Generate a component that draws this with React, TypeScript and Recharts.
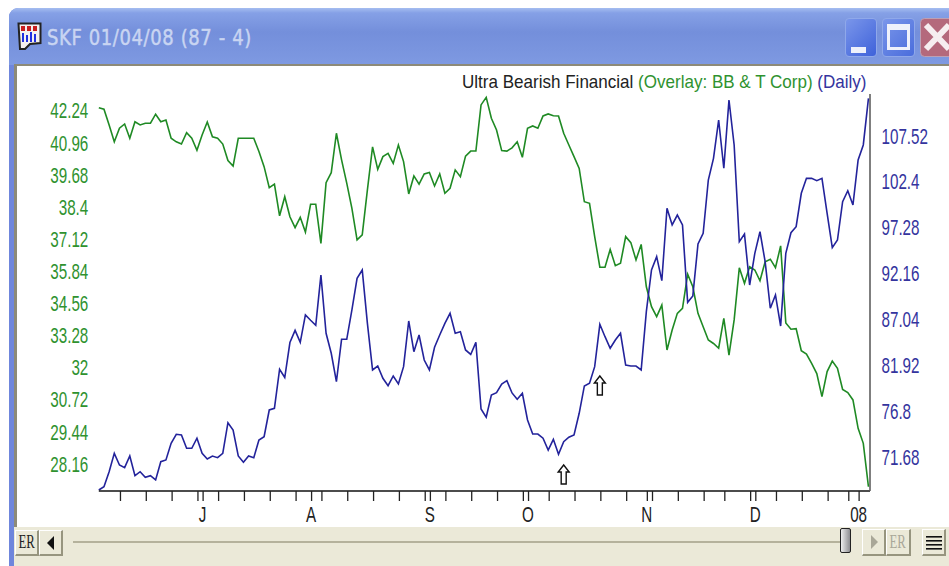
import { LineChart, Line, XAxis, YAxis, ReferenceDot } from 'recharts'

const bbtValues = [
  42.40, 42.34, 41.71, 41.04, 41.58, 41.75, 41.18, 41.84, 41.71, 41.78,
  41.78, 42.14, 41.84, 41.91, 41.18, 41.04, 40.95, 41.40, 41.18, 40.70,
  41.31, 41.83, 41.24, 41.18, 40.95, 40.29, 40.07, 41.18, 41.18, 41.18,
  41.18, 40.65, 40.05, 39.21, 39.35, 38.09, 38.85, 38.05, 37.62, 38.03,
  37.44, 38.55, 38.55, 36.99, 39.41, 39.81, 41.38, 40.32, 39.39, 38.39,
  37.13, 37.33, 39.12, 40.84, 39.94, 40.45, 40.58, 40.18, 40.91, 40.25,
  38.96, 39.68, 39.35, 39.76, 39.82, 39.28, 39.76, 38.99, 39.19, 39.92,
  39.65, 40.47, 40.67, 40.67, 42.51, 42.81, 41.98, 41.51, 40.69, 40.67,
  40.80, 41.04, 40.42, 41.58, 41.67, 41.58, 42.07, 42.15, 42.08, 42.07,
  41.38, 40.91, 40.45, 39.98, 38.65, 38.59, 37.26, 36.04, 36.04, 36.75,
  36.10, 36.20, 37.26, 37.02, 36.33, 36.95, 35.26, 34.47, 34.07, 34.53,
  32.74, 33.54, 34.20, 34.40, 35.76, 35.26, 34.20, 33.67, 33.14, 33.00,
  32.81, 34.00, 32.54, 33.94, 36.02, 35.40, 36.06, 35.93, 35.50, 36.26,
  36.36, 36.02, 36.89, 33.82, 33.57, 33.59, 32.71, 32.58, 32.21, 31.80,
  30.88, 31.88, 32.30, 32.01, 31.17, 31.04, 30.75, 29.62, 29.02, 27.29,
]

const skfValues = [
  68.14, 68.51, 70.18, 72.23, 70.93, 70.63, 71.93, 69.74, 70.18, 69.56,
  69.74, 69.26, 71.30, 71.49, 73.35, 74.35, 74.27, 72.79, 72.79, 73.91,
  72.23, 71.60, 71.93, 71.74, 72.23, 75.64, 74.83, 71.93, 71.23, 71.93,
  71.74, 73.72, 74.08, 77.06, 77.25, 81.60, 80.68, 84.58, 85.94, 84.60,
  87.65, 87.06, 86.50, 92.10, 85.61, 83.38, 80.21, 84.94, 84.94, 88.21,
  91.74, 92.66, 86.72, 81.52, 81.96, 80.59, 79.77, 80.85, 79.96, 81.89,
  86.98, 83.56, 85.42, 82.63, 81.52, 84.05, 85.42, 86.72, 87.84, 85.61,
  85.79, 83.75, 83.25, 84.60, 77.17, 76.25, 78.73, 78.99, 79.96, 80.33,
  78.96, 78.25, 78.92, 75.95, 74.38, 74.38, 73.91, 72.60, 73.79, 72.12,
  73.53, 74.02, 74.27, 76.69, 79.74, 80.04, 81.89, 86.61, 85.23, 83.94,
  84.86, 85.61, 82.07, 81.96, 81.96, 81.52, 88.02, 92.66, 94.15, 91.47,
  99.54, 97.68, 98.79, 97.68, 89.06, 89.77, 95.56, 96.75, 102.69, 105.11,
  109.38, 104.00, 111.61, 106.60, 95.82, 96.67, 90.99, 94.52, 96.93, 93.59,
  88.40, 89.88, 86.42, 94.52, 96.82, 97.49, 101.21, 102.88, 102.88, 102.62,
  102.88, 98.98, 95.15, 96.00, 100.28, 101.50, 99.91, 104.92, 106.60, 111.80,
]

const leftTicks = [42.24, 40.96, 39.68, 38.4, 37.12, 35.84, 34.56, 33.28, 32, 30.72, 29.44, 28.16]
const rightTicks = [107.52, 102.4, 97.28, 92.16, 87.04, 81.92, 76.8, 71.68]
const weekTicks = [
  4, 9, 14, 19, 20, 23, 28, 33, 38, 41, 43, 48, 53, 58, 63, 64, 67, 72, 77, 82, 83,
  87, 92, 97, 102, 106, 107, 112, 117, 121, 126, 127, 131, 136, 141, 145, 147,
]
const monthLabels: Record<number, string> = { 20: 'J', 41: 'A', 64: 'S', 83: 'O', 106: 'N', 127: 'D', 147: '08' }
const arrowMarks = [
  { day: 90, price: 69.87 },
  { day: 97, price: 79.79 },
]

const chartData = skfValues.map((skf, i) => ({ day: i, skf, bbt: bbtValues[i] }))

const GREEN = '#2f922f'
const NAVY = '#34349e'
const FONT = '"Liberation Sans", Arial, sans-serif'

function LeftTick({ x, y, payload }: any) {
  return (
    <text transform={`translate(${x - 8.5},${y + 6.8}) scale(1,1.4)`} textAnchor="end" fontFamily={FONT} fontSize={15.2} fill={GREEN}>
      {payload.value}
    </text>
  )
}

function RightTick({ x, y, payload }: any) {
  return (
    <text transform={`translate(${x + 9.5},${y + 6.8}) scale(1,1.4)`} textAnchor="start" fontFamily={FONT} fontSize={15.2} fill={NAVY}>
      {payload.value}
    </text>
  )
}

function WeekTick({ x, y, payload }: any) {
  const label = monthLabels[payload.value]
  return (
    <g>
      <line x1={x + 1} x2={x + 1} y1={491} y2={501} stroke="#222" strokeWidth={1.3} />
      {label && (
        <text transform={`translate(${x + 0.5},521.5) scale(1,1.4)`} textAnchor="middle" fontFamily={FONT} fontSize={15.2} fill="#222">
          {label}
        </text>
      )}
    </g>
  )
}

function UpArrow({ cx, cy }: any) {
  const p = [
    [0, -9.5], [5.5, -2.5], [2.5, -2.5], [2.5, 9.5], [-2.5, 9.5], [-2.5, -2.5], [-5.5, -2.5],
  ]
  return <polygon points={p.map(([a, b]) => `${cx + a},${cy + b}`).join(' ')} fill="#fff" stroke="#111" strokeWidth={1.4} />
}

function Bevel({ left, top, width, height, children }: any) {
  return (
    <div
      style={{
        position: 'absolute', left, top, width, height, boxSizing: 'border-box', background: '#ebe9d8',
        borderTop: '1px solid #fff', borderLeft: '1px solid #fff', borderRight: '2px solid #97957f', borderBottom: '2px solid #97957f',
        display: 'flex', alignItems: 'center', justifyContent: 'center',
      }}
    >
      {children}
    </div>
  )
}

function WindowChrome() {
  return (
    <>
      <div
        style={{
          position: 'absolute', left: 9, top: 8, width: 940, height: 558, background: '#6f86dc', borderTopLeftRadius: 9,
        }}
      />
      <div
        style={{
          position: 'absolute', left: 9, top: 8, width: 940, height: 57, borderTopLeftRadius: 9,
          background: 'linear-gradient(#a5bdf0 0px, #85a0e6 5px, #748fdb 24px, #7c97e0 50px, #7f9ae2 57px)',
        }}
      />
      <div style={{ position: 'absolute', left: 14, top: 64, width: 935, height: 2, background: '#8d8a78' }} />
      <div style={{ position: 'absolute', left: 14, top: 65, width: 2.5, height: 462, background: '#8d8a78' }} />
      <div style={{ position: 'absolute', left: 16.5, top: 66, width: 933, height: 461, background: '#fff' }} />
      <svg style={{ position: 'absolute', left: 17, top: 22 }} width={25} height={29}>
        <path d="M1.5 1.5 H23.5 V21 L13 22 L8 27 H3 Z" fill="#f4f0f0" stroke="#222" strokeWidth={2} />
        <rect x={4} y={4} width={4} height={5} fill="#c81e1e" />
        <rect x={10} y={4} width={4} height={5} fill="#c81e1e" />
        <rect x={16} y={4} width={4} height={5} fill="#c81e1e" />
        <rect x={5} y={11} width={2} height={9} fill="#2030e0" />
        <rect x={9} y={13} width={2} height={7} fill="#2030e0" />
        <rect x={13} y={10} width={2} height={10} fill="#2030e0" />
        <rect x={17} y={12} width={2} height={8} fill="#2030e0" />
      </svg>
      <div
        style={{
          position: 'absolute', left: 47, top: 25, whiteSpace: 'nowrap', transformOrigin: 'left top', transform: 'scale(1,1.2)',
          fontFamily: '"DejaVu Sans", Verdana, sans-serif', fontSize: 18, lineHeight: '22px', color: '#c9d5f2', letterSpacing: 0.6,
          WebkitTextStroke: '0.4px #c9d5f2',
        }}
      >
        SKF 01/04/08 (87 - 4)
      </div>
      <div style={{ position: 'absolute', left: 845, top: 18, width: 32, height: 39, boxSizing: 'border-box', border: '1px solid #8fa8ea', borderRadius: 4, background: 'linear-gradient(135deg, #7a96ea, #3f62da)' }}>
        <div style={{ position: 'absolute', left: 5, top: 28, width: 15, height: 6, background: '#eef1fb' }} />
      </div>
      <div style={{ position: 'absolute', left: 882, top: 18, width: 33, height: 39, boxSizing: 'border-box', border: '1px solid #8fa8ea', borderRadius: 4, background: 'linear-gradient(135deg, #7a96ea, #4a6ddc)' }}>
        <div style={{ position: 'absolute', left: 4, top: 5, width: 23, height: 26, boxSizing: 'border-box', border: '3px solid #eef1fb', borderTopWidth: 6 }} />
      </div>
      <svg style={{ position: 'absolute', left: 920, top: 18 }} width={29} height={39}>
        <rect x={0.5} y={0.5} width={40} height={38} rx={4} fill="#b4697c" stroke="#bca0b4" />
        <path d="M6 7 L29 31 M29 7 L6 31" stroke="#f6eef0" strokeWidth={6} />
      </svg>
      <div style={{ position: 'absolute', left: 14, top: 527, width: 935, height: 39, background: '#ebe9d8' }} />
      <Bevel left={15} top={530} width={24} height={26}>
        <span style={{ fontFamily: '"Liberation Serif", serif', fontSize: 15, color: '#222', transform: 'scale(0.85,1.2)' }}>ER</span>
      </Bevel>
      <Bevel left={39} top={530} width={24} height={26}>
        <svg width={10} height={14}><path d="M8 0 V14 L1 7 Z" fill="#111" /></svg>
      </Bevel>
      <div style={{ position: 'absolute', left: 73, top: 541, width: 768, height: 2, background: '#b5b29c' }} />
      <div style={{ position: 'absolute', left: 840, top: 528, width: 11, height: 25, boxSizing: 'border-box', border: '1.5px solid #222', borderRadius: 2, background: 'linear-gradient(90deg, #eee, #8e8e92)' }} />
      <Bevel left={862} top={529} width={24} height={27}>
        <svg width={10} height={14}><path d="M2 0 V14 L9 7 Z" fill="#a9a798" /></svg>
      </Bevel>
      <Bevel left={886} top={529} width={25} height={27}>
        <span style={{ fontFamily: '"Liberation Serif", serif', fontSize: 15, color: '#a9a798', transform: 'scale(0.85,1.2)' }}>ER</span>
      </Bevel>
      <Bevel left={922} top={529} width={24} height={27}>
        <svg width={16} height={15}>
          {[1, 5, 9, 13].map((y) => <rect key={y} x={0} y={y} width={16} height={1.6} fill="#111" />)}
        </svg>
      </Bevel>
    </>
  )
}

export default function App() {
  return (
    <div style={{ position: 'fixed', left: 0, top: 0, width: 949, height: 566, overflow: 'hidden', background: '#fff' }}>
      <WindowChrome />
      <div
        style={{
          position: 'absolute', right: 949 - 866.5, top: 71, whiteSpace: 'nowrap', transformOrigin: 'right top', transform: 'scale(1,1.1)',
          fontFamily: FONT, fontSize: 17.05, lineHeight: '19px', color: '#222',
        }}
      >
        Ultra Bearish Financial <span style={{ color: GREEN }}>(Overlay: BB &amp; T Corp)</span> <span style={{ color: NAVY }}>(Daily)</span>
      </div>
      <div style={{ position: 'absolute', left: 0, top: 0 }}>
        <LineChart width={949} height={566} data={chartData} margin={{ top: 94, right: 19, left: 38.8, bottom: 45 }}>
          <XAxis
            dataKey="day"
            type="number"
            domain={[0, 149.3]}
            ticks={weekTicks}
            interval={0}
            height={30}
            tickSize={0}
            tickLine={false}
            tick={<WeekTick />}
            axisLine={{ stroke: '#111', strokeWidth: 1.6 }}
          />
          <YAxis
            yAxisId="left"
            orientation="left"
            width={60}
            domain={[27.12, 42.945]}
            ticks={leftTicks}
            interval={0}
            tickSize={0}
            axisLine={false}
            tickLine={false}
            tick={<LeftTick />}
          />
          <YAxis
            yAxisId="right"
            orientation="right"
            width={60}
            domain={[68.03, 112.28]}
            ticks={rightTicks}
            interval={0}
            tickSize={0}
            tickLine={false}
            tick={<RightTick />}
            axisLine={{ stroke: '#555', strokeWidth: 1.5 }}
          />
          <Line yAxisId="left" dataKey="bbt" stroke="#1f8a24" strokeWidth={1.6} dot={false} isAnimationActive={false} />
          <Line yAxisId="right" dataKey="skf" stroke="#23239b" strokeWidth={1.6} dot={false} isAnimationActive={false} />
          {arrowMarks.map((m) => (
            <ReferenceDot key={m.day} yAxisId="right" x={m.day} y={m.price} r={1} shape={<UpArrow />} />
          ))}
        </LineChart>
      </div>
    </div>
  )
}
